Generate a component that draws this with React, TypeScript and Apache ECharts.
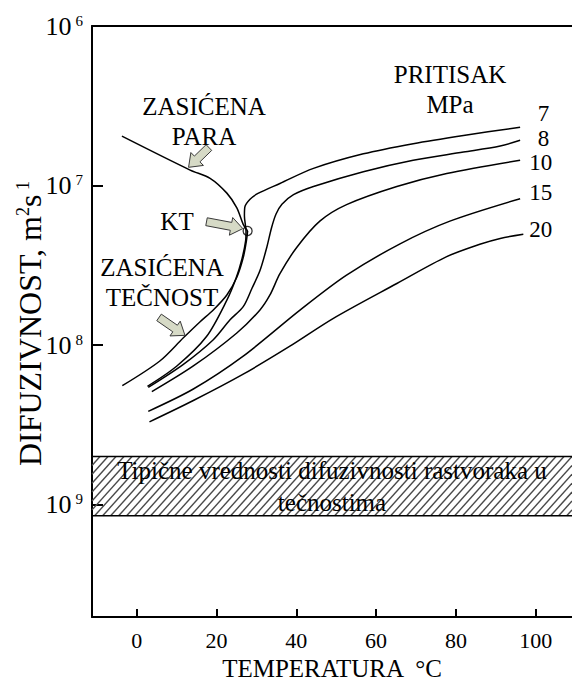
import React, { useEffect, useRef } from "react";
import * as echarts from "echarts";

const FONT = "Liberation Serif";

// Axis ranges and tick positions
const X_MIN = -11.2;
const X_MAX = 109.1;
const Y_MIN = 1.97e-10;
const Y_MAX = 1e-6;
const X_TICKS = [0, 20, 40, 60, 80, 100];
const Y_LABELS = [1e-9, 1e-8, 1e-7, 1e-6];
const Y_TICK_MARKS = [1e-9, 1e-8, 1e-7];

// Saturated vapour branch (temperature °C, diffusivity m²/s)
const VAPOR_T = [-3.7, 13.4, 18.4, 22.6, 25.1, 26.7, 27.8];
const VAPOR_D = [2.04e-7, 1.25e-7, 1.11e-7, 8.96e-8, 7.24e-8, 5.71e-8, 5.19e-8];

// Saturated liquid branch
const LIQUID_T = [-3.6, 5.8, 11.7, 15.9, 19.2, 22.6, 25.1, 26.7, 27.5, 27.8];
const LIQUID_D = [5.56e-9, 7.94e-9, 1.11e-8, 1.4e-8, 1.66e-8, 2.06e-8, 2.66e-8, 3.53e-8, 4.5e-8, 5.19e-8];

// Critical point
const KT_T = 27.8;
const KT_D = 5.19e-8;

// Isobars, pressure in MPa
const P7_T = [2.7, 10.0, 17.5, 22.6, 24.9, 26.4, 27.3, 27.4, 27.0, 27.1, 28.4, 30.4, 35.9, 44.3, 56.8, 69.3, 81.9, 96.1];
const P7_D = [5.51e-9, 7.36e-9, 1.13e-8, 1.91e-8, 2.62e-8, 3.48e-8, 4.5e-8, 5.19e-8, 6.43e-8, 7.31e-8, 8.19e-8, 8.92e-8, 1.03e-7, 1.28e-7, 1.58e-7, 1.83e-7, 2.06e-7, 2.32e-7];

const P8_T = [2.9, 11.7, 19.2, 23.4, 26.7, 28.9, 30.9, 32.6, 33.8, 34.9, 36.4, 39.3, 44.3, 56.8, 69.3, 81.9, 91.1, 96.1];
const P8_D = [5.43e-9, 7.57e-9, 1.08e-8, 1.44e-8, 1.74e-8, 2.27e-8, 2.93e-8, 4.09e-8, 5.44e-8, 6.61e-8, 7.63e-8, 8.76e-8, 9.86e-8, 1.22e-7, 1.44e-7, 1.62e-7, 1.77e-7, 1.92e-7];

const P10_T = [3.8, 14.2, 25.1, 30.9, 33.4, 35.9, 40.1, 45.9, 52.6, 65.2, 77.7, 96.1];
const P10_D = [5.1e-9, 7.39e-9, 1.19e-8, 1.66e-8, 2.06e-8, 2.8e-8, 4.09e-8, 5.98e-8, 7.59e-8, 9.86e-8, 1.19e-7, 1.44e-7];

const P15_T = [2.9, 14.2, 26.7, 41.0, 52.5, 66.0, 78.5, 96.1];
const P15_D = [3.84e-9, 5.3e-9, 8.52e-9, 1.66e-8, 2.73e-8, 4.31e-8, 5.98e-8, 8.27e-8];

const P20_T = [3.2, 14.2, 26.7, 38.4, 49.3, 65.2, 77.7, 86.0, 91.1, 96.9];
const P20_D = [3.3e-9, 4.49e-9, 6.57e-9, 9.83e-9, 1.47e-8, 2.43e-8, 3.58e-8, 4.28e-8, 4.66e-8, 4.95e-8];

const PRESSURES = ["7", "8", "10", "15", "20"];

// Band of typical diffusivities of solutes in liquids
const BAND_LOW = 8.5e-10;
const BAND_HIGH = 2.0e-9;
const BAND_TEXT = "Tipične vrednosti difuzivnosti rastvoraka u\ntečnostima";

// Pointer arrows (tail -> tip), in data coordinates
const ARROWS: [number, number][][] = [
  [[18.1, 1.73e-7], [13.0, 1.3e-7]],
  [[17.5, 5.93e-8], [26.6, 5.37e-8]],
  [[5.6, 1.49e-8], [12.1, 1.15e-8]],
];

// Pixel offsets of the pressure labels from each isobar's end
const LABEL_OFFSETS: [number, number][] = [
  [29, -14],
  [29, -2],
  [32, 2],
  [32, -6.5],
  [29, -4.5],
];

const zip = (t: number[], d: number[]) => t.map((v, i) => [v, d[i]]);

function arrowPoints(tail: number[], tip: number[], shaftW: number, headW: number, headL: number) {
  const dx = tip[0] - tail[0];
  const dy = tip[1] - tail[1];
  const len = Math.hypot(dx, dy);
  const ux = dx / len;
  const uy = dy / len;
  const nx = -uy;
  const ny = ux;
  const bx = tip[0] - ux * headL;
  const by = tip[1] - uy * headL;
  return [
    [tail[0] + (nx * shaftW) / 2, tail[1] + (ny * shaftW) / 2],
    [bx + (nx * shaftW) / 2, by + (ny * shaftW) / 2],
    [bx + (nx * headW) / 2, by + (ny * headW) / 2],
    [tip[0], tip[1]],
    [bx - (nx * headW) / 2, by - (ny * headW) / 2],
    [bx - (nx * shaftW) / 2, by - (ny * shaftW) / 2],
    [tail[0] - (nx * shaftW) / 2, tail[1] - (ny * shaftW) / 2],
  ];
}

function renderBand(params: any, api: any) {
  const cs = params.coordSys;
  const left = cs.x;
  const right = cs.x + cs.width;
  const yTop = api.coord([api.value(0), api.value(2)])[1];
  const yBot = api.coord([api.value(0), api.value(1)])[1];
  const h = yBot - yTop;
  const run = h * 0.9;
  const step = 8;
  const children: any[] = [];
  for (let b = left - run; b < right; b += step) {
    let x1 = b;
    let y1 = yBot;
    let x2 = b + run;
    let y2 = yTop;
    if (x1 < left) {
      y1 = yBot - ((left - b) * h) / run;
      x1 = left;
    }
    if (x2 > right) {
      y2 = yBot - ((right - b) * h) / run;
      x2 = right;
    }
    children.push({
      type: "line",
      shape: { x1, y1, x2, y2 },
      style: { stroke: "#4a4a4a", lineWidth: 1.4 },
    });
  }
  children.push({
    type: "line",
    shape: { x1: left, y1: yTop, x2: right, y2: yTop },
    style: { stroke: "#000", lineWidth: 1.6 },
  });
  children.push({
    type: "line",
    shape: { x1: left, y1: yBot, x2: right, y2: yBot },
    style: { stroke: "#000", lineWidth: 1.6 },
  });
  children.push({
    type: "text",
    x: (left + right) / 2,
    y: (yTop + yBot) / 2,
    style: {
      text: BAND_TEXT,
      fontSize: 25,
      fontFamily: FONT,
      fill: "#000",
      align: "center",
      verticalAlign: "middle",
      lineHeight: 32,
    },
  });
  return { type: "group", children };
}

export default function App() {
  const ref = useRef<HTMLDivElement>(null);

  useEffect(() => {
    document.body.style.margin = "0";
    if (!ref.current) return;
    const chart = echarts.init(ref.current, undefined, { renderer: "svg" });

    const curve = (name: string, t: number[], d: number[]) => ({
      name,
      type: "line",
      data: zip(t, d),
      showSymbol: false,
      symbol: "none",
      smooth: 0.3,
      lineStyle: { color: "#000", width: 1.5 },
      z: 3,
    });

    const isobars = [
      [P7_T, P7_D],
      [P8_T, P8_D],
      [P10_T, P10_D],
      [P15_T, P15_D],
      [P20_T, P20_D],
    ];

    chart.setOption({
      animation: false,
      backgroundColor: "#fff",
      textStyle: { fontFamily: FONT, color: "#000" },
      grid: { left: 92, top: 26, right: 0, bottom: 65 },
      xAxis: [
        {
          type: "value",
          min: X_MIN,
          max: X_MAX,
          axisLine: { onZero: false, lineStyle: { color: "#000", width: 2 } },
          axisTick: {
            inside: true,
            length: 8,
            customValues: X_TICKS,
            lineStyle: { color: "#000", width: 2 },
          },
          axisLabel: {
            customValues: X_TICKS,
            margin: 12,
            fontSize: 22,
            fontFamily: FONT,
            color: "#000",
          },
          splitLine: { show: false },
          name: "TEMPERATURA  °C",
          nameLocation: "middle",
          nameGap: 38,
          nameTextStyle: { fontSize: 25, fontFamily: FONT, color: "#000" },
        },
        {
          type: "value",
          position: "top",
          min: X_MIN,
          max: X_MAX,
          axisLine: { show: true, onZero: false, lineStyle: { color: "#000", width: 2 } },
          axisTick: { show: false },
          axisLabel: { show: false },
          splitLine: { show: false },
        },
      ],
      yAxis: {
        type: "log",
        logBase: 10,
        min: Y_MIN,
        max: Y_MAX,
        axisLine: { show: true, onZero: false, lineStyle: { color: "#000", width: 2 } },
        axisTick: {
          inside: true,
          length: 11,
          customValues: Y_TICK_MARKS,
          lineStyle: { color: "#000", width: 2 },
        },
        axisLabel: {
          customValues: Y_LABELS,
          margin: 9,
          formatter: (v: number) => `{n|10}{s|${Math.round(-Math.log10(v))}}`,
          rich: {
            n: { fontSize: 26, fontFamily: FONT, color: "#000" },
            s: { fontSize: 15, fontFamily: FONT, color: "#000", verticalAlign: "top", padding: [0, 0, 0, 4] },
          },
        },
        splitLine: { show: false },
        minorTick: { show: false },
      },
      series: [
        {
          name: "band",
          type: "custom",
          renderItem: renderBand,
          data: [[X_MIN, BAND_LOW, BAND_HIGH]],
          encode: { x: 0, y: [1, 2] },
          silent: true,
          z: 1,
        },
        curve("ZASIĆENA PARA", VAPOR_T, VAPOR_D),
        curve("ZASIĆENA TEČNOST", LIQUID_T, LIQUID_D),
        ...isobars.map(([t, d], i) => curve(PRESSURES[i], t, d)),
        {
          name: "KT",
          type: "scatter",
          data: [[KT_T, KT_D]],
          symbol: "circle",
          symbolSize: 9,
          itemStyle: { color: "rgba(255,255,255,0)", borderColor: "#000", borderWidth: 1.3 },
          z: 5,
        },
      ],
    });

    const toPx = (p: number[]) => chart.convertToPixel({ gridIndex: 0 }, p) as number[];

    const graphics: any[] = [];

    isobars.forEach(([t, d], i) => {
      const last = toPx([t[t.length - 1], d[d.length - 1]]);
      graphics.push({
        type: "text",
        x: last[0] + LABEL_OFFSETS[i][0],
        y: last[1] + LABEL_OFFSETS[i][1],
        style: {
          text: PRESSURES[i],
          font: `23px ${FONT}`,
          fill: "#000",
          align: "right",
          verticalAlign: "middle",
        },
        z: 10,
      });
    });

    ARROWS.forEach(([from, to]) => {
      graphics.push({
        type: "polygon",
        shape: { points: arrowPoints(toPx(from), toPx(to), 8, 18, 12) },
        style: { fill: "#d6dac6", stroke: "#3a3a3a", lineWidth: 1 },
        z: 10,
      });
    });

    const label = (text: string, x: number, y: number) => ({
      type: "text",
      x,
      y,
      style: {
        text,
        font: `25px ${FONT}`,
        fill: "#000",
        align: "center",
        verticalAlign: "middle",
        lineHeight: 30,
      },
      z: 10,
    });

    graphics.push(label("ZASIĆENA\nPARA", 204, 121));
    graphics.push(label("KT", 177, 221));
    graphics.push(label("ZASIĆENA\nTEČNOST", 162, 282));
    graphics.push(label("PRITISAK\nMPa", 450, 89));

    // Vertical axis title, centred on the plot height
    const top = toPx([0, Y_MAX])[1];
    const bottom = toPx([0, Y_MIN])[1];
    graphics.push({
      type: "text",
      x: 30,
      y: (top + bottom) / 2 + 2,
      rotation: Math.PI / 2,
      style: {
        text: "DIFUZIVNOST, m{s|2}s{s| 1}",
        fontSize: 32,
        fontFamily: FONT,
        fill: "#000",
        align: "center",
        verticalAlign: "middle",
        rich: {
          s: { fontSize: 18, fontFamily: FONT, fill: "#000", verticalAlign: "top" },
        },
      },
      z: 10,
    });

    chart.setOption({ graphic: graphics });

    return () => chart.dispose();
  }, []);

  return <div ref={ref} style={{ width: 572, height: 686 }} />;
}
